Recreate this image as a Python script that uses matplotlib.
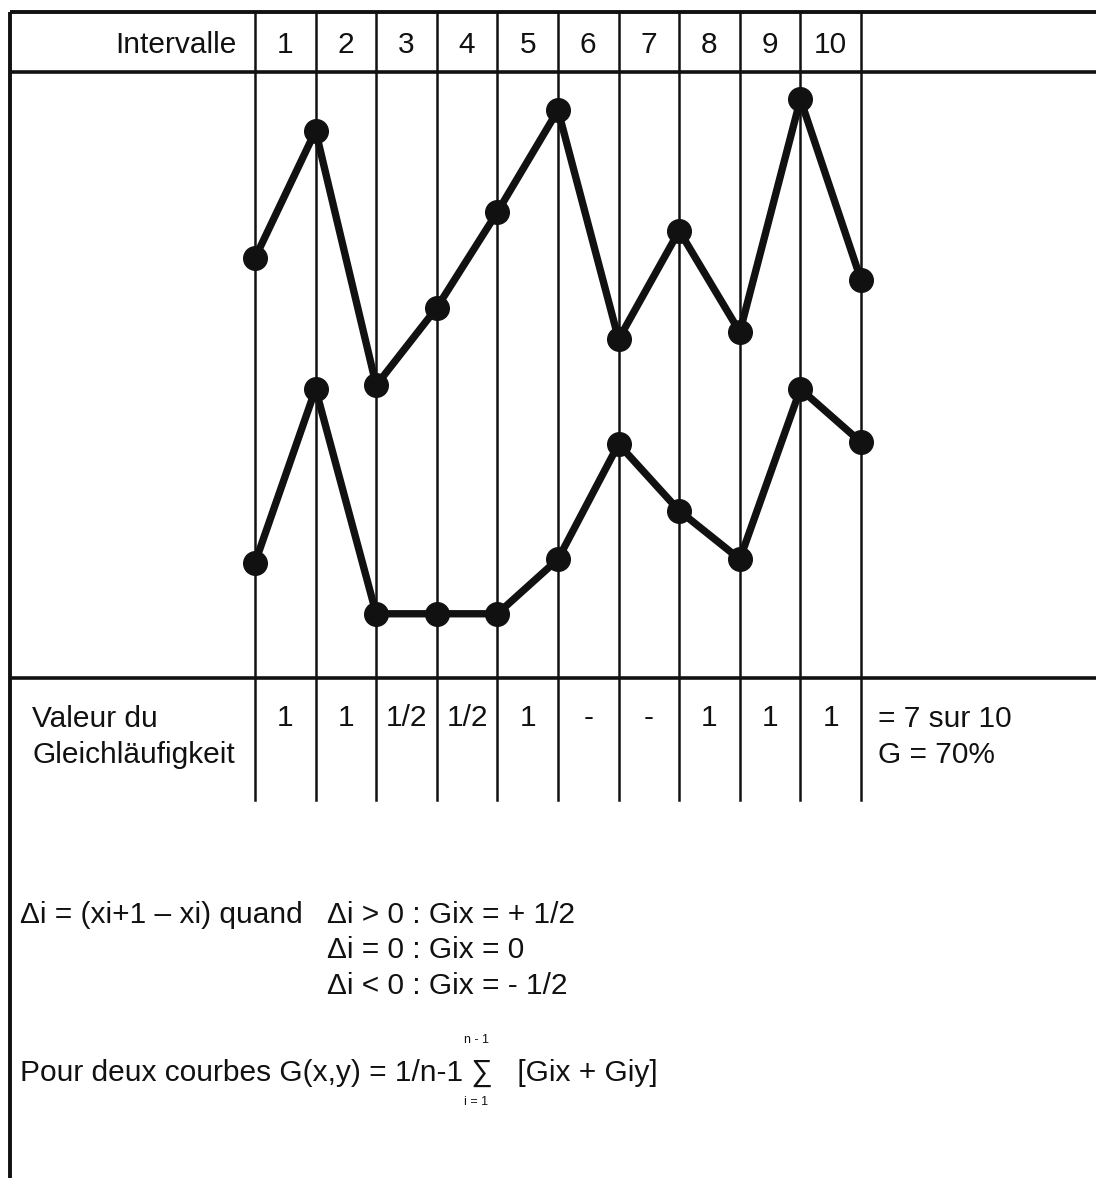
import numpy as np
import matplotlib.pyplot as plt

plt.rcParams['font.family'] = ['Liberation Sans', 'DejaVu Sans']

# intervals and the two curves (value scale 0-100)
intervals = ["1", "2", "3", "4", "5", "6", "7", "8", "9", "10"]
curve_x = [69.3, 90.3, 48.3, 61.1, 76.9, 93.7, 55.9, 73.8, 57.1, 95.5, 65.7]
curve_y = [19.0, 47.7, 10.6, 10.6, 10.6, 19.6, 38.6, 27.6, 19.6, 47.7, 38.9]
g_values = ["1", "1", "1/2", "1/2", "1", "-", "-", "1", "1", "1"]
row_label = "Valeur du\nGleichläufigkeit"
result = "= 7 sur 10\nG = 70%"

W, H = 1096, 1178
fig = plt.figure(figsize=(W / 100, H / 100), dpi=100)

# layout axes in pixel units, for the frame and the free text
lay = fig.add_axes([0, 0, 1, 1])
lay.set_xlim(0, W)
lay.set_ylim(H, 0)
lay.axis("off")

ink = "#111111"
fs = 21.5

# frame
lay.plot([10, W], [12, 12], color=ink, lw=2.8, solid_capstyle="butt")
lay.plot([10, 10], [12, H], color=ink, lw=2.8, solid_capstyle="butt")
lay.plot([10, W], [72, 72], color=ink, lw=2.6, solid_capstyle="butt")
lay.plot([10, W], [678, 678], color=ink, lw=2.6, solid_capstyle="butt")

# data axes over the curve area
top_px, bot_px, left_px, right_px = 72, 678, 255, 861
ax = fig.add_axes([left_px / W, 1 - bot_px / H,
                   (right_px - left_px) / W, (bot_px - top_px) / H])
ax.set_xlim(0, len(intervals))
ax.set_ylim(0, 100)
ax.axis("off")

span = bot_px - top_px
xs = np.arange(len(curve_x))
for x in xs:
    ax.axvline(x, ymin=-(800 - bot_px) / span, ymax=1 + (top_px - 12) / span,
               color=ink, lw=1.8, clip_on=False)

for vals in (curve_x, curve_y):
    ax.plot(xs, vals, color=ink, lw=5.3, marker="o", ms=17,
            solid_joinstyle="round", clip_on=False, zorder=3)

# header and value row
head_y = 1 + (top_px - 45) / span
row_y = -(718 - bot_px) / span
tr = ax.get_xaxis_transform()
for i, lab in enumerate(intervals):
    ax.text(i + 0.5, head_y, lab, transform=tr, ha="center", va="center",
            fontsize=fs, color=ink)
for i, lab in enumerate(g_values):
    ax.text(i + 0.5, row_y, lab, transform=tr, ha="center", va="center",
            fontsize=fs, color=ink)

lay.text(237, 45, "Intervalle", ha="right", va="center", fontsize=fs, color=ink)
lay.text(32, 737, row_label, ha="left", va="center", fontsize=fs, color=ink,
         linespacing=1.32)
lay.text(878, 737, result, ha="left", va="center", fontsize=fs, color=ink,
         linespacing=1.32)

# formulas
lay.text(20, 915, "\u0394i = (xi+1 \u2013 xi) quand", ha="left", va="center",
         fontsize=fs, color=ink)
conds = ["\u0394i > 0 : Gix = + 1/2", "\u0394i = 0 : Gix = 0",
         "\u0394i < 0 : Gix = - 1/2"]
for k, c in enumerate(conds):
    lay.text(327, [915, 950, 986][k], c, ha="left", va="center",
             fontsize=fs, color=ink)

lay.text(20, 1073, "Pour deux courbes G(x,y) = 1/n-1 \u2211   [Gix + Giy]",
         ha="left", va="center", fontsize=fs, color=ink)
lay.text(476, 1040, "n - 1", ha="center", va="center", fontsize=9, color=ink)
lay.text(476, 1102, "i = 1", ha="center", va="center", fontsize=9, color=ink)

fig.savefig("out.png", dpi=100, facecolor="white")
